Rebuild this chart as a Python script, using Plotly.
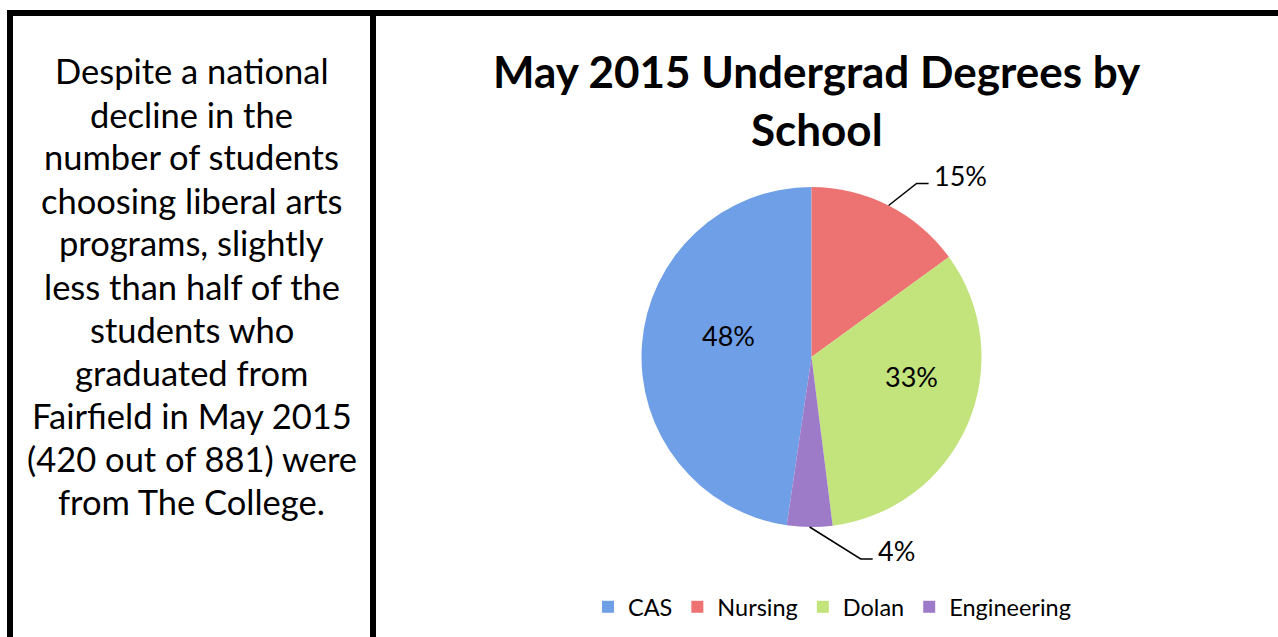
import math
import plotly.graph_objects as go

# ---- data ----
schools = ["CAS", "Nursing", "Dolan", "Engineering"]
degrees = [420, 132, 291, 38]
slice_colors = ["#6f9fe6", "#ec7372", "#c3e37c", "#9d7bc9"]

title_lines = ["May 2015 Undergrad Degrees by", "School"]
side_lines = [
    "Despite a national",
    "decline in the",
    "number of students",
    "choosing liberal arts",
    "programs, slightly",
    "less than half of the",
    "students who",
    "graduated from",
    "Fairfield in May 2015",
    "(420 out of 881) were",
    "from The College.",
]

# ---- layout geometry (pixels) ----
W, H = 1278, 637
CX, CY, R = 811.5, 357.0, 170.0
FONT = "Lato"


def px(x):
    return x / W


def py(y):
    return 1 - y / H


total = sum(degrees)
# CAS is drawn so that it ends at 12 o'clock (clockwise order)
rotation = 360.0 * (1 - degrees[0] / total)

# mid angles (clockwise from 12 o'clock)
mids = []
acc = rotation
for v in degrees:
    span = 360.0 * v / total
    mids.append((acc + span / 2) % 360)
    acc += span


def polar(rad, ang):
    a = math.radians(ang)
    return CX + rad * math.sin(a), CY - rad * math.cos(a)


fig = go.Figure()
fig.add_trace(go.Pie(
    labels=schools,
    values=degrees,
    sort=False,
    direction="clockwise",
    rotation=rotation,
    marker=dict(colors=slice_colors, line=dict(width=0)),
    textinfo="none",
    hoverinfo="label+value+percent",
    domain=dict(x=[px(CX - R), px(CX + R)], y=[py(CY + R), py(CY - R)]),
    showlegend=True,
))

annotations = []
shapes = []

# percentage labels
pct = [round(100 * v / total) for v in degrees]
# inside labels: (radius fraction, angle shift)
inside_place = {0: (0.506, 10.0), 2: (0.60, -12.5)}
for i, (rf, sh) in inside_place.items():
    x, y = polar(rf * R, mids[i] + sh)
    annotations.append(dict(x=px(x), y=py(y), xref="paper", yref="paper",
                            text=f"{pct[i]}%", showarrow=False,
                            font=dict(family=FONT, size=27, color="#000000"),
                            xanchor="center", yanchor="middle"))

# outside labels with leader lines: (elbow dx, elbow dy, tail length)
outside_place = {1: (28, -22, 12), 3: (51, 32, 12)}
for i, (edx, edy, tl) in outside_place.items():
    sx, sy = polar(R, mids[i])
    ex, ey = sx + edx, sy + edy
    fx, fy = ex + tl, ey
    shapes.append(dict(type="path", xref="paper", yref="paper",
                       path=f"M {px(sx)},{py(sy)} L {px(ex)},{py(ey)} L {px(fx)},{py(fy)}",
                       line=dict(color="#000000", width=1.5)))
    annotations.append(dict(x=px(fx + 3), y=py(fy - 8), xref="paper", yref="paper",
                            text=f"{pct[i]}%", showarrow=False,
                            font=dict(family=FONT, size=27, color="#000000"),
                            xanchor="left", yanchor="middle"))

# chart title
for k, t in enumerate(title_lines):
    annotations.append(dict(x=px(817), y=py(71 + 58 * k), xref="paper", yref="paper",
                            text=f"<b>{t}</b>", showarrow=False,
                            font=dict(family=FONT, size=44, color="#000000"),
                            xanchor="center", yanchor="middle"))

# side text
for k, t in enumerate(side_lines):
    annotations.append(dict(x=px(191.5), y=py(71 + 43 * k), xref="paper", yref="paper",
                            text=t, showarrow=False,
                            font=dict(family=FONT, size=34.5, color="#000000"),
                            xanchor="center", yanchor="middle"))

# frame lines
frame = dict(type="rect", xref="paper", yref="paper", line=dict(width=0),
             fillcolor="#000000", layer="above")
shapes.append({**frame, "x0": px(7), "x1": px(1278), "y0": py(16), "y1": py(10)})
shapes.append({**frame, "x0": px(7), "x1": px(13), "y0": py(H + 2), "y1": py(10)})
shapes.append({**frame, "x0": px(370), "x1": px(376), "y0": py(H + 2), "y1": py(10)})

fig.update_layout(
    width=W, height=H,
    margin=dict(l=0, r=0, t=0, b=0),
    paper_bgcolor="#ffffff",
    plot_bgcolor="#ffffff",
    font=dict(family=FONT, color="#000000"),
    annotations=annotations,
    shapes=shapes,
    legend=dict(orientation="h", x=px(832), y=py(607), xanchor="center", yanchor="middle",
                font=dict(family=FONT, size=23.5, color="#000000"),
                itemwidth=30, traceorder="normal"),
)

fig.write_html(
    "out.html",
    config={"displayModeBar": False},
    post_script="document.body.style.margin='0px';document.body.style.overflow='hidden';",
)
